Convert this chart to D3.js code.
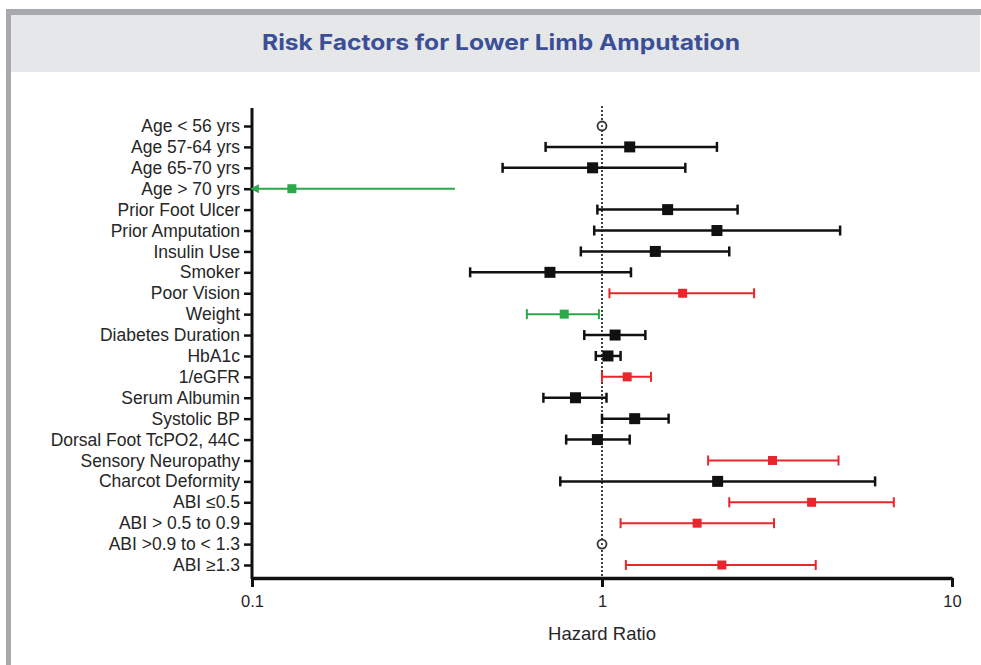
<!DOCTYPE html>
<html lang="en">
<head>
  <meta charset="UTF-8" />
  <title>Risk Factors for Lower Limb Amputation</title>
  <script src="https://d3js.org/d3.v7.min.js"></script>
  <style>
    body {
      margin: 0;
      padding: 0;
      background: white;
    }
    svg { display: block; }
    .ylab text {
      font-family: "Liberation Sans", Arial, sans-serif;
      font-size: 17.5px;
      fill: #262626;
    }
    .xaxis text {
      font-family: "Liberation Sans", Arial, sans-serif;
      font-size: 16.5px;
      fill: #262626;
    }
  </style>
</head>
<body>
  <svg id="chart" width="981" height="665"></svg>

  <script>
    // data
    const factors = [
      "Age < 56 yrs", "Age 57-64 yrs", "Age 65-70 yrs", "Age > 70 yrs",
      "Prior Foot Ulcer", "Prior Amputation", "Insulin Use", "Smoker",
      "Poor Vision", "Weight", "Diabetes Duration", "HbA1c", "1/eGFR",
      "Serum Albumin", "Systolic BP", "Dorsal Foot TcPO2, 44C",
      "Sensory Neuropathy", "Charcot Deformity", "ABI \u22640.5",
      "ABI > 0.5 to 0.9", "ABI >0.9 to < 1.3", "ABI \u22651.3"
    ];
    const hazard = [1, 1.20, 0.94, 0.13, 1.54, 2.13, 1.42, 0.71, 1.70, 0.78, 1.09,
      1.04, 1.18, 0.84, 1.24, 0.97, 3.07, 2.14, 3.97, 1.87, 1, 2.20];
    const lowerCI = [null, 0.69, 0.52, 0.05, 0.97, 0.95, 0.87, 0.42, 1.05, 0.61, 0.89,
      0.96, 1.00, 0.68, 1.00, 0.79, 2.01, 0.76, 2.31, 1.13, null, 1.17];
    const upperCI = [null, 2.13, 1.73, 0.38, 2.44, 4.79, 2.31, 1.21, 2.72, 0.98, 1.33,
      1.13, 1.38, 1.03, 1.55, 1.20, 4.74, 6.03, 6.82, 3.10, null, 4.08];
    // ref = reference group, ns = not significant, risk = higher risk, prot = protective
    const effect = ["ref", "ns", "ns", "prot", "ns", "ns", "ns", "ns", "risk", "prot", "ns",
      "ns", "risk", "ns", "ns", "ns", "risk", "ns", "risk", "risk", "ref", "risk"];
    const xTicks = [0.1, 1, 10];

    const rows = factors.map((f, i) => ({
      name: f, hr: hazard[i], lo: lowerCI[i], hi: upperCI[i], eff: effect[i]
    }));

    const svg = d3.select("#chart");

    // frame + title bar
    svg.append("rect").attr("x", 6).attr("y", 9).attr("width", 975).attr("height", 6).attr("fill", "#a8a9ac");
    svg.append("rect").attr("x", 6).attr("y", 9).attr("width", 5).attr("height", 656).attr("fill", "#a8a9ac");
    svg.append("rect").attr("x", 11).attr("y", 15).attr("width", 969).attr("height", 57).attr("fill", "#e6e7e9");
    svg.append("text")
      .attr("x", 501).attr("y", 50)
      .attr("text-anchor", "middle")
      .attr("textLength", 478)
      .attr("lengthAdjust", "spacingAndGlyphs")
      .style("font-family", "Inter, 'Open Sans', sans-serif")
      .style("font-weight", "700")
      .style("font-size", "22px")
      .style("fill", "#3b4f96")
      .text("Risk Factors for Lower Limb Amputation");

    const x = d3.scaleLog().domain([0.1, 10]).range([252, 952]);
    const y = d3.scalePoint().domain(factors).range([126, 565]);

    const color = d3.scaleOrdinal()
      .domain(["ref", "ns", "risk", "prot"])
      .range(["#333", "#111", "#e8262b", "#2aa84a"]);

    // y axis
    const yAxis = svg.append("g")
      .attr("class", "ylab")
      .attr("transform", "translate(252,0)")
      .call(d3.axisLeft(y).tickSize(8).tickPadding(4));
    yAxis.select(".domain").remove();
    yAxis.selectAll(".tick line").attr("stroke", "#111").attr("stroke-width", 2.5);
    svg.append("line")
      .attr("x1", 252).attr("x2", 252).attr("y1", 108).attr("y2", 579)
      .attr("stroke", "#111").attr("stroke-width", 3);

    // x axis
    const xAxis = svg.append("g")
      .attr("class", "xaxis")
      .attr("transform", "translate(0,578)")
      .call(d3.axisBottom(x).tickValues(xTicks).tickFormat(d3.format("~g")).tickSize(9).tickSizeOuter(0).tickPadding(8));
    xAxis.select(".domain").attr("stroke", "#111").attr("stroke-width", 3.5);
    xAxis.selectAll(".tick line").attr("stroke", "#111").attr("stroke-width", 3);

    svg.append("text")
      .attr("x", 602).attr("y", 640)
      .attr("text-anchor", "middle")
      .style("font-family", "'Liberation Sans', Arial, sans-serif")
      .style("font-size", "18.5px")
      .style("fill", "#262626")
      .text("Hazard Ratio");

    // reference line at HR = 1
    svg.append("line")
      .attr("x1", x(1)).attr("x2", x(1)).attr("y1", 106).attr("y2", 577)
      .attr("stroke", "#111").attr("stroke-width", 1.6)
      .attr("stroke-dasharray", "2,2");

    // arrow marker for CIs running off the axis
    svg.append("defs").append("marker")
      .attr("id", "arrow-prot")
      .attr("viewBox", "0 0 10 10")
      .attr("refX", 1).attr("refY", 5)
      .attr("markerWidth", 4.5).attr("markerHeight", 4.5)
      .attr("orient", "auto-start-reverse")
      .append("path").attr("d", "M0,0 L10,5 L0,10 Z")
      .attr("fill", color("prot"));

    const bars = rows.filter(d => d.eff !== "ref");
    const lo = d => Math.max(d.lo, 0.1);
    const sw = d => d.eff === "ns" ? 2.5 : 2;

    const g = svg.append("g");
    g.selectAll("line.ci")
      .data(bars)
      .enter()
      .append("line")
      .attr("class", "ci")
      .attr("x1", d => d.lo < 0.1 ? x(lo(d)) + 6 : x(lo(d)))
      .attr("x2", d => x(d.hi))
      .attr("y1", d => y(d.name)).attr("y2", d => y(d.name))
      .attr("stroke", d => color(d.eff))
      .attr("stroke-width", sw)
      .attr("marker-start", d => d.lo < 0.1 ? "url(#arrow-prot)" : null);

    // caps (none on the row whose interval runs off the axis)
    bars.filter(d => d.lo >= 0.1).forEach(d => {
      [d.lo, d.hi].forEach(v => {
        g.append("line")
          .attr("x1", x(v)).attr("x2", x(v))
          .attr("y1", y(d.name) - 5).attr("y2", y(d.name) + 5)
          .attr("stroke", color(d.eff))
          .attr("stroke-width", sw(d));
      });
    });

    // point estimates
    g.selectAll("rect.pt")
      .data(bars)
      .enter()
      .append("rect")
      .attr("class", "pt")
      .attr("x", d => x(d.hr) - (d.eff === "ns" ? 5.5 : 4.5))
      .attr("y", d => y(d.name) - (d.eff === "ns" ? 5.5 : 4.5))
      .attr("width", d => d.eff === "ns" ? 11 : 9)
      .attr("height", d => d.eff === "ns" ? 11 : 9)
      .attr("fill", d => color(d.eff));

    // reference groups
    const refs = rows.filter(d => d.eff === "ref");
    g.selectAll("circle.ref")
      .data(refs)
      .enter()
      .append("circle")
      .attr("cx", d => x(d.hr)).attr("cy", d => y(d.name))
      .attr("r", 4.5)
      .attr("fill", "white")
      .attr("stroke", color("ref"))
      .attr("stroke-width", 1.8);
    g.selectAll("circle.refdot")
      .data(refs)
      .enter()
      .append("circle")
      .attr("cx", d => x(d.hr)).attr("cy", d => y(d.name))
      .attr("r", 1.1)
      .attr("fill", color("ref"));
  </script>
</body>
</html>
